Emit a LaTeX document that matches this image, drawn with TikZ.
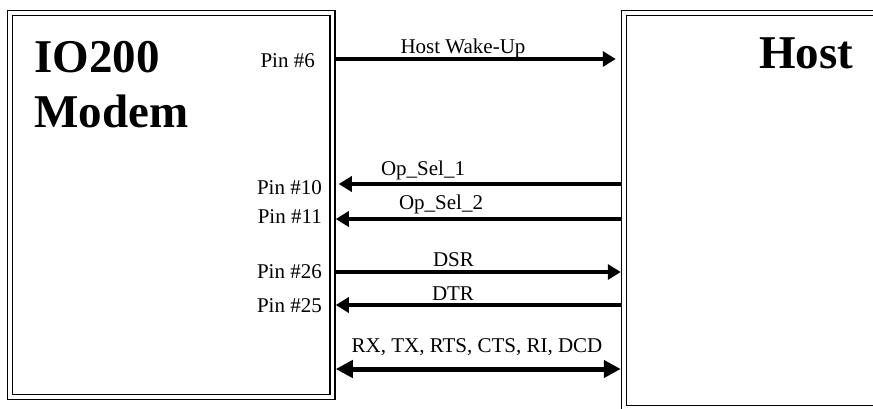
\documentclass[tikz,border=0pt]{standalone}
\usepackage{fontspec}
\setmainfont{Liberation Serif}
\usetikzlibrary{arrows.meta}
\tikzset{
  dbox/.style={draw, double, line width=1.4pt, double distance=3.6pt, inner sep=0pt, outer sep=3.25pt, rectangle},
  big/.style={font=\fontsize{47}{56}\selectfont\bfseries, inner sep=0pt},
  lbl/.style={font=\fontsize{21}{25}\selectfont, inner sep=0pt},
  sig/.style={line width=3.6pt, -{Triangle[length=13pt,width=15pt]}},
  bus/.style={line width=5pt, {Triangle[length=17pt,width=17pt]}-{Triangle[length=17pt,width=17pt]}}
}
\begin{document}
\begin{tikzpicture}[x=1pt,y=-1pt]
\useasboundingbox (0,0) rectangle (873,408);
\clip (0,0) rectangle (873,408);
% boxes
\node[dbox, minimum width=322.5pt, minimum height=384pt] (modem) at (171.25,205) {};
\node[dbox, minimum width=256pt, minimum height=395pt] (host) at (752,210.5) {};
% titles
\node[big, anchor=base west] (t1) at (34,72) {IO200};
\node[big, anchor=base west] (t2) at (34,127) {Modem};
\node[big, anchor=base west] (t3) at (759,68) {Host};
% pin labels
\node[lbl, anchor=base east] (p6) at (315,67) {Pin \#6};
\node[lbl, anchor=base east] (p10) at (322,194) {Pin \#10};
\node[lbl, anchor=base east] (p11) at (322,223) {Pin \#11};
\node[lbl, anchor=base east] (p26) at (322,278) {Pin \#26};
\node[lbl, anchor=base east] (p25) at (322,312) {Pin \#25};
% signal labels
\node[lbl, anchor=base] (lw) at (463,53) {Host Wake-Up};
\node[lbl, anchor=base] (l1) at (423,175) {Op\_Sel\_1};
\node[lbl, anchor=base] (l2) at (441,209) {Op\_Sel\_2};
\node[lbl, anchor=base] (ld) at (453.5,266.5) {DSR};
\node[lbl, anchor=base] (lt) at (453,300) {DTR};
\node[lbl, anchor=base] (lr) at (477,352.5) {RX, TX, RTS, CTS, RI, DCD};
% connectors
\draw[sig, shorten >=5pt] (modem.east |- 0,59) -- (host.west |- 0,59);
\draw[sig, shorten >=3pt] (host.west |- 0,184) -- (modem.east |- 0,184);
\draw[sig] (host.west |- 0,219) -- (modem.east |- 0,219);
\draw[sig] (modem.east |- 0,272) -- (host.west |- 0,272);
\draw[sig] (host.west |- 0,305) -- (modem.east |- 0,305);
\draw[bus] (modem.east |- 0,369) -- (host.west |- 0,369);
\end{tikzpicture}
\end{document}
